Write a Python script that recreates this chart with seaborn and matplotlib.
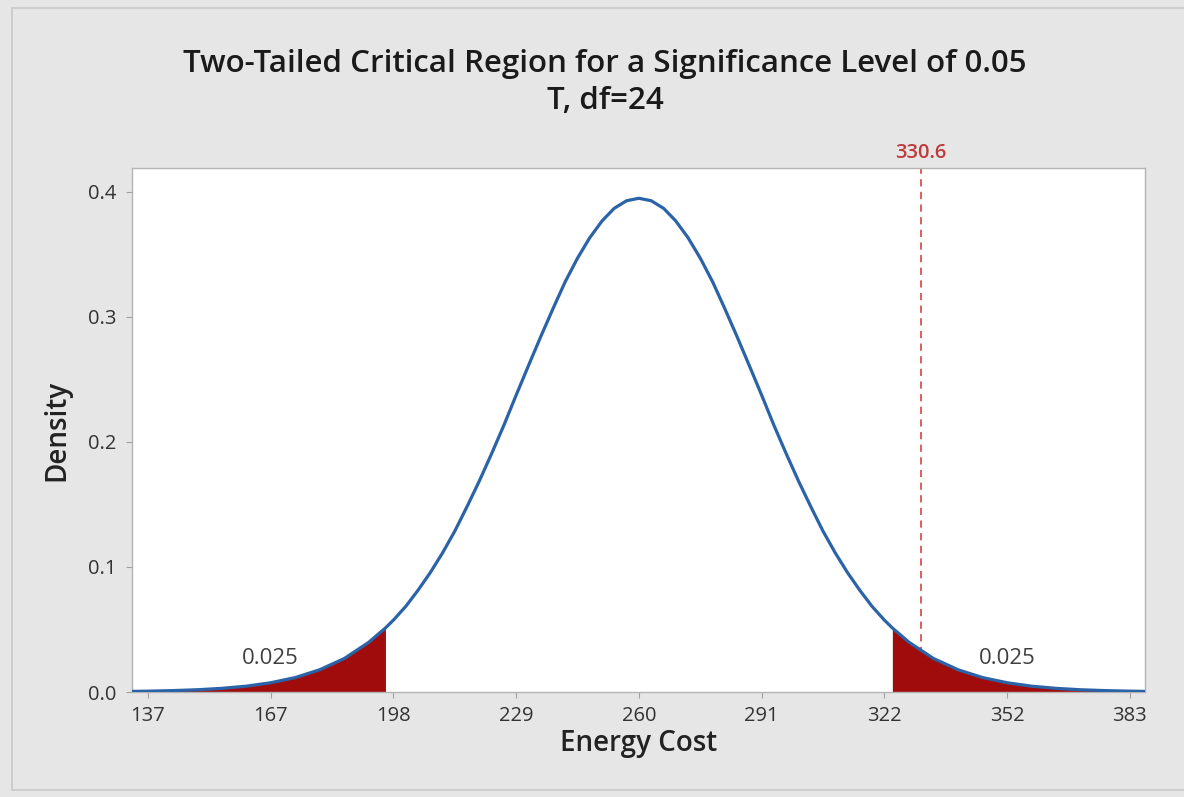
import numpy as np
import pandas as pd
import matplotlib
matplotlib.use("Agg")
import matplotlib.pyplot as plt
from matplotlib.patches import Rectangle
import seaborn as sns

# ---- data ----
energy_cost = [130.8, 137.0, 143.1, 149.3, 155.4, 161.6, 167.7, 173.9, 180.0, 186.2,
               192.3, 196.5, 198.5, 201.6, 204.6, 207.7, 210.8, 213.9, 216.9, 220.0,
               223.1, 226.2, 229.2, 232.3, 235.4, 238.5, 241.5, 244.6, 247.7, 250.8,
               253.8, 256.9, 260.0, 263.1, 266.2, 269.2, 272.3, 275.4, 278.5, 281.5,
               284.6, 287.7, 290.8, 293.8, 296.9, 300.0, 303.1, 306.1, 309.2, 312.3,
               315.4, 318.4, 321.5, 323.5, 327.7, 333.8, 340.0, 346.1, 352.3, 358.4,
               364.6, 370.7, 376.9, 383.0, 389.2]
density = [0.0004, 0.00067, 0.00111, 0.00179, 0.0029, 0.00465, 0.00737, 0.01153, 0.01775, 0.0268,
           0.0397, 0.0512, 0.0575, 0.0685, 0.0811, 0.0953, 0.1112, 0.1288, 0.1480, 0.1686,
           0.1906, 0.2135, 0.2370, 0.2607, 0.2841, 0.3067, 0.3278, 0.3468, 0.3633, 0.3768,
           0.3867, 0.3928, 0.3948, 0.3928, 0.3867, 0.3768, 0.3633, 0.3468, 0.3278, 0.3067,
           0.2841, 0.2607, 0.2370, 0.2135, 0.1906, 0.1686, 0.1480, 0.1288, 0.1112, 0.0953,
           0.0811, 0.0685, 0.0575, 0.0512, 0.0397, 0.0268, 0.01775, 0.01153, 0.00737, 0.00465,
           0.0029, 0.00179, 0.00111, 0.00067, 0.0004]
critical_values = [196.5, 323.5]
tail_labels = ["0.025", "0.025"]
tail_label_x = [167.75, 352.25]
tail_label_y = [0.027, 0.027]
marker_value = 330.6
xtick_values = [137, 167.75, 198.5, 229.25, 260, 290.75, 321.5, 352.25, 383]
xtick_labels = ["137", "167", "198", "229", "260", "291", "322", "352", "383"]
ytick_values = [0.0, 0.1, 0.2, 0.3, 0.4]
ytick_labels = ["0.0", "0.1", "0.2", "0.3", "0.4"]
title_main = "Two-Tailed Critical Region for a Significance Level of 0.05"
title_sub = "T, df=24"

# ---- styling ----
sns.set_theme(style="white")
plt.rcParams["font.family"] = ["Open Sans", "DejaVu Sans"]

BG = "#e6e6e6"
fig = plt.figure(figsize=(11.84, 7.97), dpi=100, facecolor=BG)
frame = Rectangle((12 / 1184, 7 / 797), 1.2, 782 / 797, transform=fig.transFigure,
                  facecolor=BG, edgecolor="#c8c8c8", linewidth=1.2, zorder=-10)
fig.add_artist(frame)
ax = fig.add_axes([132 / 1184, 1 - 692 / 797, (1145 - 132) / 1184, (692 - 168) / 797])
ax.set_zorder(1)
ax.set_facecolor("white")

df = pd.DataFrame({"Energy Cost": energy_cost, "Density": density})
x = np.array(energy_cost)
y = np.array(density)

ax.axvline(marker_value, color="#d9534f", linestyle=(0, (4, 3)), linewidth=1.3, zorder=1)

ax.fill_between(x, 0, y, where=x <= critical_values[0], color="#a00b0b", linewidth=0, zorder=2)
ax.fill_between(x, 0, y, where=x >= critical_values[1], color="#a00b0b", linewidth=0, zorder=2)

sns.lineplot(data=df, x="Energy Cost", y="Density", ax=ax, color="#2b63a8",
             linewidth=2.3, zorder=3, sort=True)

for lx, ly, lt in zip(tail_label_x, tail_label_y, tail_labels):
    ax.text(lx, ly, lt, ha="center", va="center", fontsize=16, color="#404040")

ax.text(marker_value, 0.431, f"{marker_value}", ha="center", va="center",
        fontsize=14.5, color="#c0393b", fontweight="semibold", clip_on=False)

ax.set_xlim(133.0, 386.8)
ax.set_ylim(0, 0.419)
ax.set_xticks(xtick_values)
ax.set_xticklabels(xtick_labels)
ax.set_yticks(ytick_values)
ax.set_yticklabels(ytick_labels)
ax.tick_params(axis="both", which="major", direction="out", length=4, width=0.8,
               color="#a0a0a0", labelsize=14.5, labelcolor="#333333")
ax.tick_params(axis="x", pad=6)
ax.tick_params(axis="y", pad=7)
ax.tick_params(axis="both", bottom=True, left=True)

for s in ax.spines.values():
    s.set_color("#b4b4b4")
    s.set_linewidth(1.0)

ax.set_xlabel("Energy Cost", fontsize=20, fontweight="semibold", color="#222222", labelpad=2)
ax.set_ylabel("Density", fontsize=20, fontweight="semibold", color="#222222", labelpad=12)

fig.text(0.511, 1 - 64 / 797, title_main, ha="center", va="center", fontsize=22.5,
         fontweight="semibold", color="#1a1a1a")
fig.text(0.511, 1 - 101 / 797, title_sub, ha="center", va="center", fontsize=22.5,
         fontweight="semibold", color="#1a1a1a")

fig.savefig("out.png", dpi=100, facecolor=BG)
